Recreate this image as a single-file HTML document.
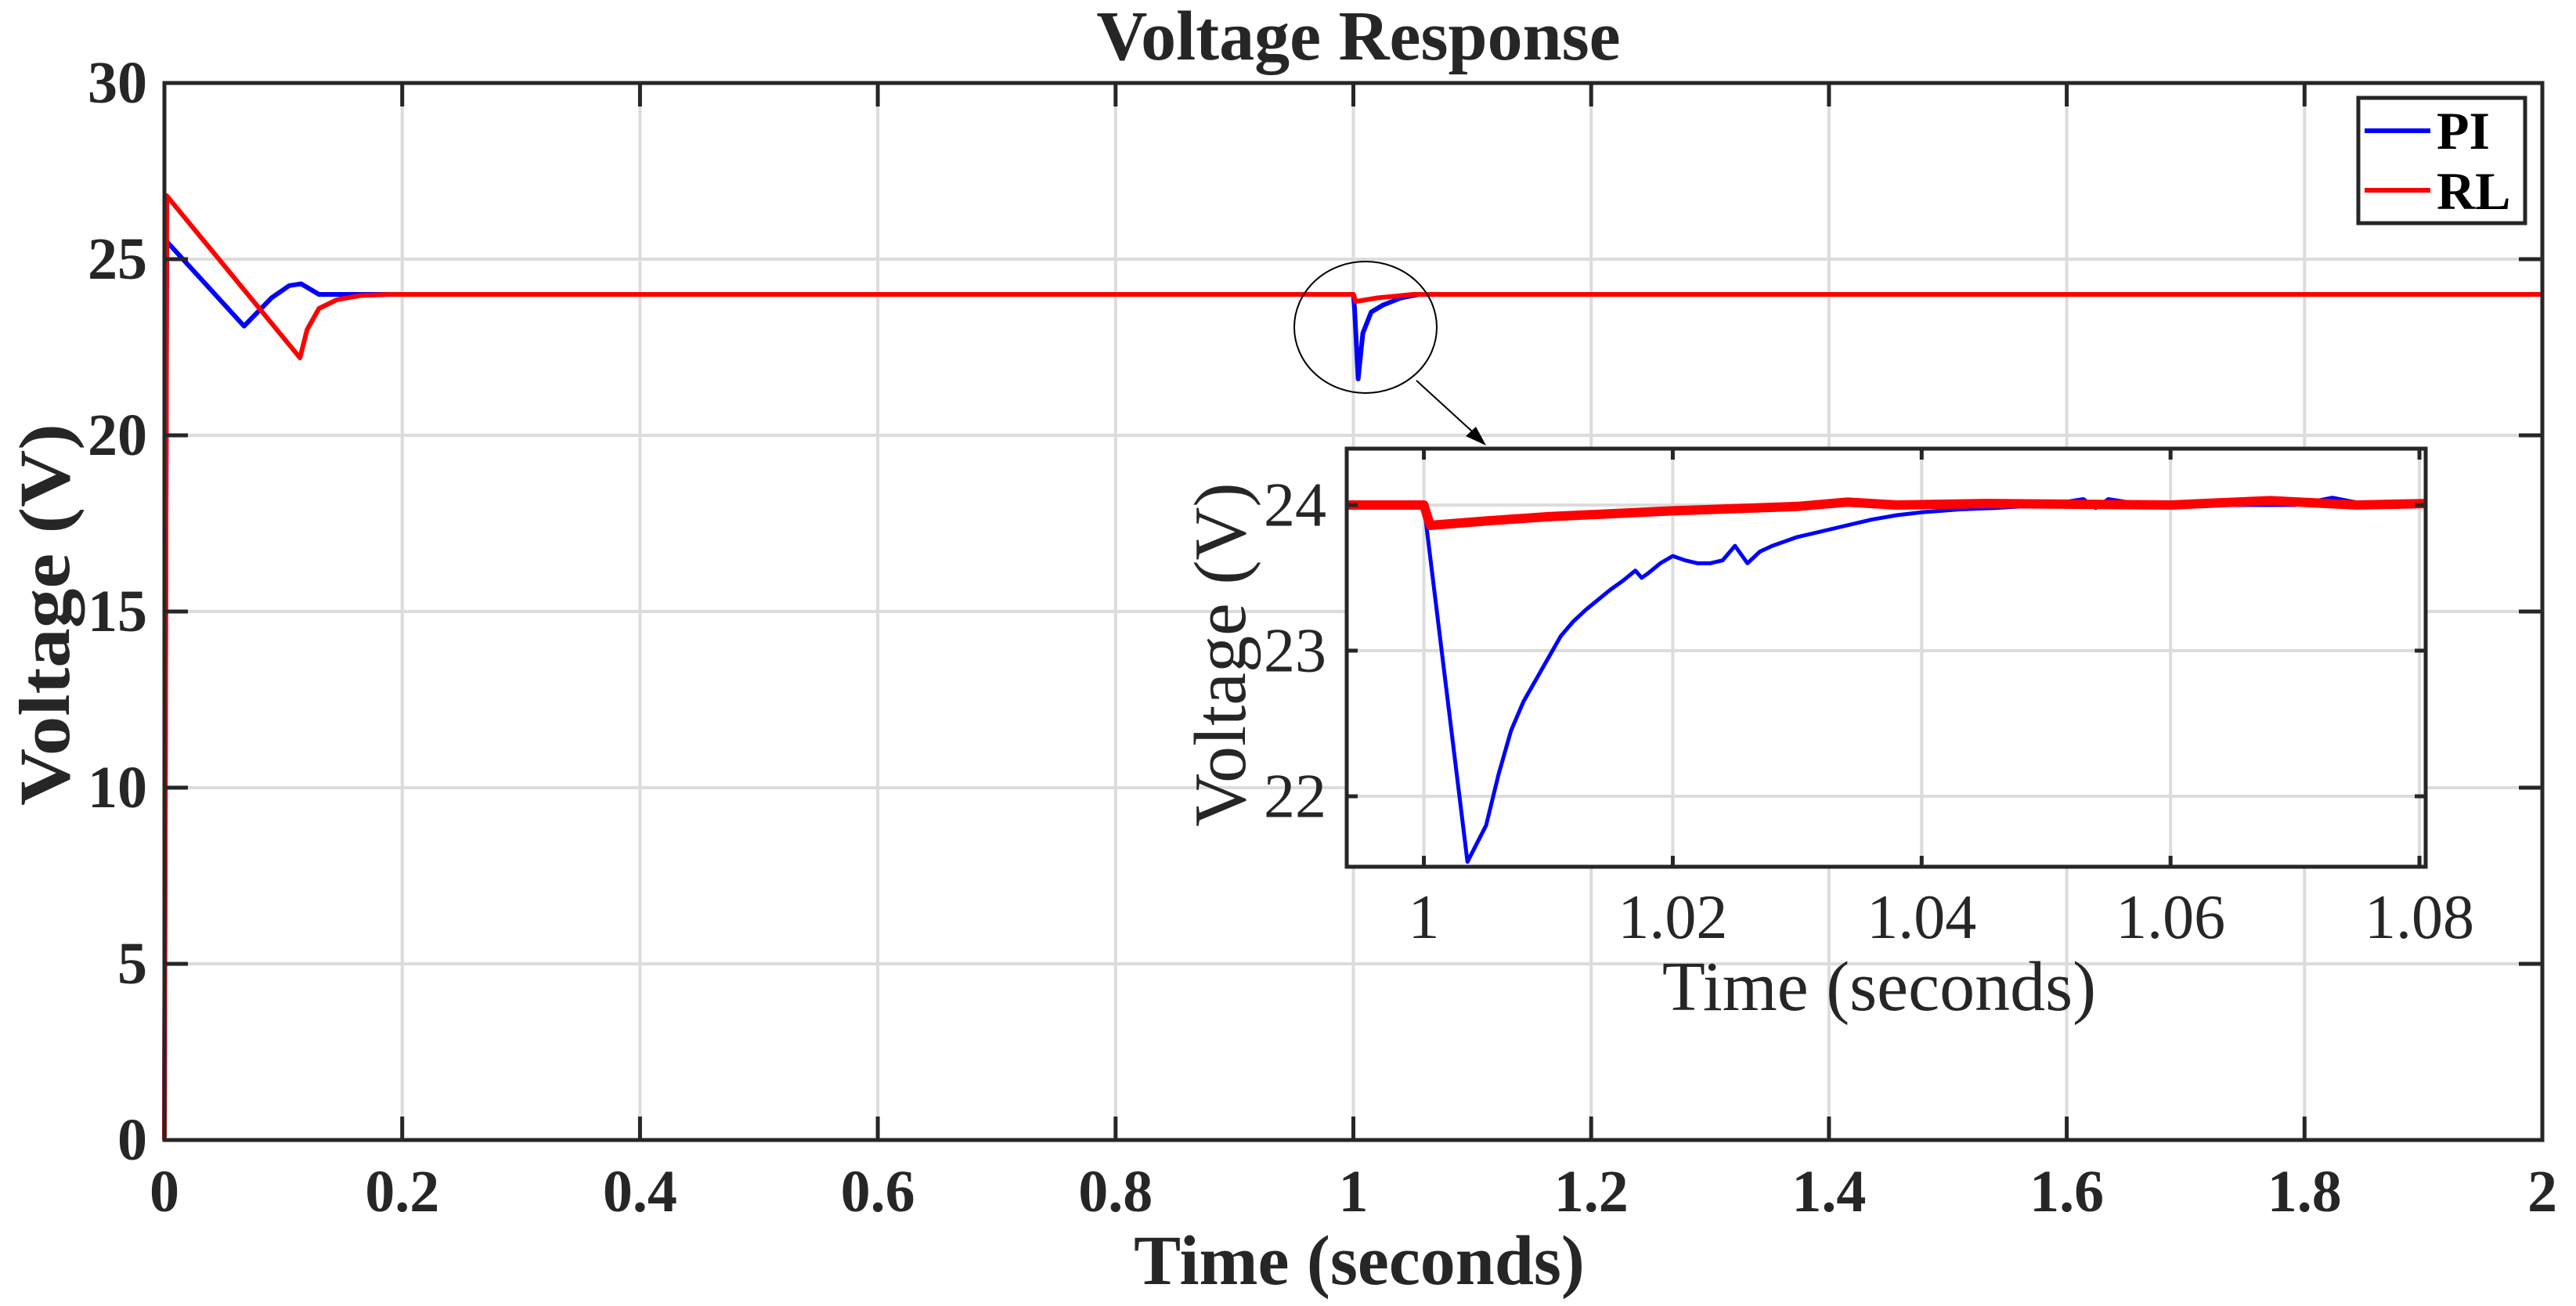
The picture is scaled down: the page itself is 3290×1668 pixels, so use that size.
<!DOCTYPE html>
<html><head><meta charset="utf-8"><style>
html,body{margin:0;padding:0;background:#fff}
svg{display:block}
text{font-family:"Liberation Serif",serif;fill:#262626}
</style></head><body>
<svg id="chart" width="3290" height="1668" viewBox="0 0 3290 1668" xmlns="http://www.w3.org/2000/svg">
<rect width="3290" height="1668" fill="#fff"/>
<text x="1735" y="76" font-size="90" font-weight="bold" text-anchor="middle">Voltage Response</text>
<g id="main"></g>
<text x="1736" y="1640" font-size="90" font-weight="bold" text-anchor="middle">Time (seconds)</text>
<text transform="translate(88,785) rotate(-90) scale(1.1,1)" font-size="92" font-weight="bold" text-anchor="middle">Voltage (V)</text>
<g>
<rect x="3012" y="125" width="213" height="160" fill="#fff" stroke="#262626" stroke-width="5"/>
<line x1="3020" y1="167" x2="3104" y2="167" stroke="#0000ff" stroke-width="6"/>
<text x="3112" y="190" font-size="68" font-weight="bold" style="fill:#000">PI</text>
<line x1="3020" y1="243" x2="3104" y2="243" stroke="#ff0000" stroke-width="6"/>
<text x="3112" y="267" font-size="68" font-weight="bold" style="fill:#000">RL</text>
</g>
<ellipse cx="1744" cy="418" rx="91" ry="84" fill="none" stroke="#000" stroke-width="2"/>
<line x1="1809" y1="486" x2="1890" y2="560" stroke="#000" stroke-width="2"/>
<polygon points="1898,569 1872,557 1885,545" fill="#000"/>
<g id="inset"></g>
</svg>
<script>
// Main chart data
const mainPiT = [0,0.002,0.067,0.09,0.105,0.115,0.13,1.0,1.001,1.004,1.008,1.015,1.025,1.04,1.055,2.0];
const mainPiV = [0,25.5,23.1,23.9,24.25,24.3,24.0,24.0,23.6,21.6,22.9,23.5,23.7,23.9,24.0,24.0];
const mainRlT = [0,0.002,0.114,0.12,0.13,0.145,0.165,0.19,1.0,1.002,1.02,1.05,2.0];
const mainRlV = [0,26.8,22.2,23.0,23.6,23.85,23.97,24.0,24.0,23.8,23.9,24.0,24.0];
const mainXTicks = [0,0.2,0.4,0.6,0.8,1,1.2,1.4,1.6,1.8,2];
const mainXLabels = ["0","0.2","0.4","0.6","0.8","1","1.2","1.4","1.6","1.8","2"];
const mainYTicks = [0,5,10,15,20,25,30];
const mainYLabels = ["0","5","10","15","20","25","30"];
// Inset data
const insetPiT = [0.9938,1.0,1.0035,1.005,1.006,1.007,1.008,1.009,1.010,1.011,1.012,1.013,1.014,1.015,1.016,1.017,1.0175,1.018,1.019,1.020,1.021,1.022,1.023,1.024,1.025,1.026,1.027,1.028,1.030,1.032,1.034,1.036,1.038,1.040,1.043,1.046,1.050,1.053,1.054,1.055,1.058,1.062,1.066,1.070,1.073,1.076,1.0805];
const insetPiV = [24.0,24.0,21.55,21.8,22.15,22.45,22.65,22.8,22.95,23.1,23.2,23.28,23.35,23.42,23.48,23.55,23.5,23.53,23.6,23.65,23.62,23.6,23.6,23.62,23.72,23.6,23.68,23.72,23.78,23.82,23.86,23.9,23.93,23.95,23.97,23.98,24.0,24.04,23.98,24.04,24.0,24.0,24.0,24.0,24.05,24.0,24.0];
const insetRlT = [0.9938,1.0,1.0005,1.005,1.01,1.02,1.03,1.034,1.038,1.045,1.06,1.068,1.075,1.0805];
const insetRlV = [24.0,24.0,23.86,23.89,23.92,23.96,23.99,24.02,24.0,24.01,24.0,24.03,24.0,24.01];
const insetXTicks = [1,1.02,1.04,1.06,1.08];
const insetXLabels = ["1","1.02","1.04","1.06","1.08"];
const insetYTicks = [22,23,24];
const insetYLabels = ["22","23","24"];

const NS="http://www.w3.org/2000/svg";
function mk(tag,attrs,parent){const e=document.createElementNS(NS,tag);for(const k in attrs)e.setAttribute(k,attrs[k]);parent.appendChild(e);return e;}

function drawAxes(g,cfg){
  const sx=v=>cfg.x0+(v-cfg.xmin)/(cfg.xmax-cfg.xmin)*(cfg.x1-cfg.x0);
  const sy=v=>cfg.y1-(v-cfg.ymin)/(cfg.ymax-cfg.ymin)*(cfg.y1-cfg.y0);
  const bg=mk('rect',{x:cfg.x0,y:cfg.y0,width:cfg.x1-cfg.x0,height:cfg.y1-cfg.y0,fill:'#fff'},g);
  
  
  cfg.xt.forEach((t,i)=>{
    const x=sx(t);
    const gl=mk('line',{x1:x,y1:cfg.y0,x2:x,y2:cfg.y1,stroke:'#dcdcdc','stroke-width':cfg.gw},g);
    
    
  });
  cfg.yt.forEach((t,i)=>{
    const y=sy(t);
    const gl=mk('line',{x1:cfg.x0,y1:y,x2:cfg.x1,y2:y,stroke:'#dcdcdc','stroke-width':cfg.gw},g);
    
    
  });
  return {sx,sy};
}
function finishAxes(g,cfg,sx,sy){
  cfg.xt.forEach((t,i)=>{
    const x=sx(t);
    const tk=mk('path',{d:`M${x},${cfg.y1}V${cfg.y1-cfg.tl}M${x},${cfg.y0}V${cfg.y0+cfg.tl}`,stroke:'#262626','stroke-width':cfg.tw},g);
    
    
    const lb=mk('text',{x:x,y:cfg.xly,'font-size':cfg.fs,'font-weight':cfg.fw,'text-anchor':'middle'},g);
    lb.textContent=cfg.xl[i];
    
    
  });
  cfg.yt.forEach((t,i)=>{
    const y=sy(t);
    const tk=mk('path',{d:`M${cfg.x0},${y}H${cfg.x0+cfg.tl}M${cfg.x1},${y}H${cfg.x1-cfg.tl}`,stroke:'#262626','stroke-width':cfg.tw},g);
    
    
    const lb=mk('text',{x:cfg.ylx,y:y+cfg.fs*0.33,'font-size':cfg.fs,'font-weight':cfg.fw,'text-anchor':'end'},g);
    lb.textContent=cfg.yl[i];
    
    
  });
  const fr=mk('rect',{x:cfg.x0,y:cfg.y0,width:cfg.x1-cfg.x0,height:cfg.y1-cfg.y0,fill:'none',stroke:'#262626','stroke-width':cfg.tw},g);
  
  
}
function series(g,T,V,sx,sy,color,w,name){
  const d=T.map((t,i)=>(i?'L':'M')+sx(t).toFixed(1)+','+sy(V[i]).toFixed(1)).join('');
  const p=mk('path',{d:d,fill:'none',stroke:color,'stroke-width':w,'stroke-linejoin':'round'},g);
  
  
}

// main
const gm=document.getElementById('main');
const mcfg={name:'main',x0:210,x1:3247,y0:106,y1:1456,xmin:0,xmax:2,ymin:0,ymax:30,xt:mainXTicks,xl:mainXLabels,yt:mainYTicks,yl:mainYLabels,gw:4,tw:5,tl:30,fs:76,fw:'bold',xly:1547,ylx:188};
const m=drawAxes(gm,mcfg);
series(gm,mainPiT,mainPiV,m.sx,m.sy,'#0000ff',6,'pi-series');
series(gm,mainRlT,mainRlV,m.sx,m.sy,'#ff0000',6,'rl-series');
finishAxes(gm,mcfg,m.sx,m.sy);

// inset
const gi=document.getElementById('inset');
const icfg={name:'inset',x0:1720,x1:3098,y0:573,y1:1107,xmin:0.9938,xmax:1.0805,ymin:21.516,ymax:24.387,xt:insetXTicks,xl:insetXLabels,yt:insetYTicks,yl:insetYLabels,gw:4,tw:5,tl:14,fs:80,fw:'normal',xly:1198,ylx:1694};
const n=drawAxes(gi,icfg);
series(gi,insetPiT,insetPiV,n.sx,n.sy,'#0000ff',5,'inset-pi-series');
series(gi,insetRlT,insetRlV,n.sx,n.sy,'#ff0000',12,'inset-rl-series');
finishAxes(gi,icfg,n.sx,n.sy);
const it=mk('text',{x:2400,y:1290,'font-size':90,'text-anchor':'middle'},gi);
it.textContent='Time (seconds)';


const iy=mk('text',{transform:'translate(1590,836) rotate(-90)','font-size':94,'text-anchor':'middle'},gi);
iy.textContent='Voltage (V)';


</script>
</body></html>
